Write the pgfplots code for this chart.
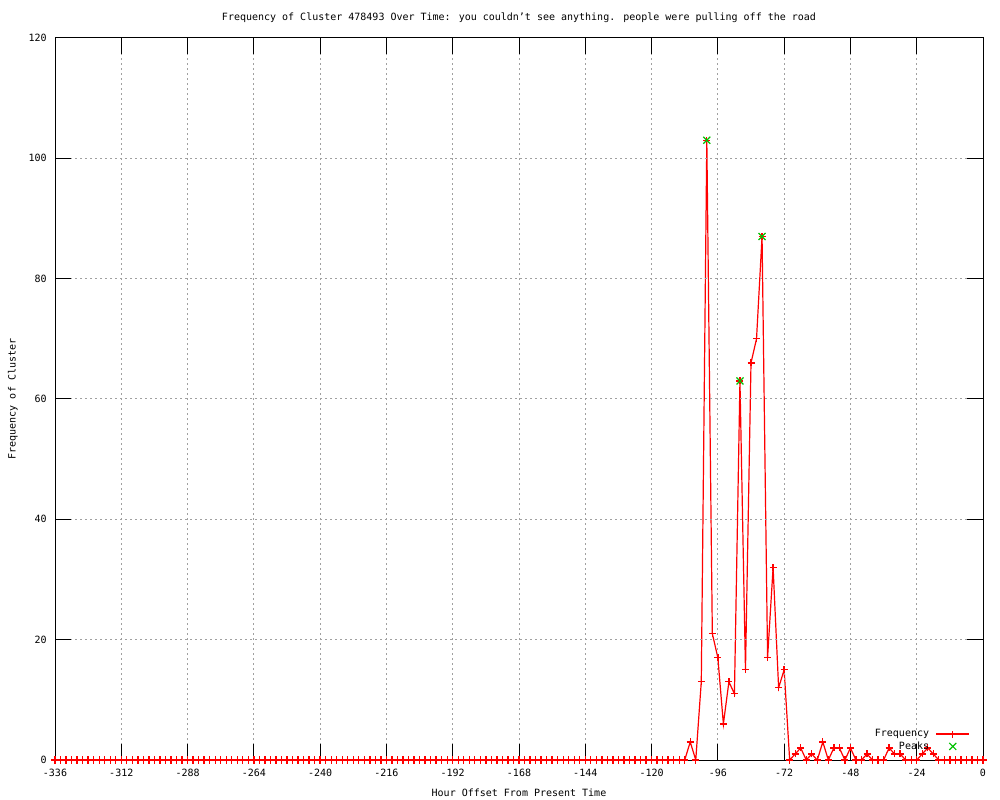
\documentclass[border=0pt]{standalone}
\usepackage{pgfplots}
\pgfplotsset{compat=1.18}
\usepackage{fontspec}
\setmainfont{DejaVu Sans Mono}
\newcommand\gf{\fontsize{5bp}{6bp}\selectfont}
\definecolor{gpred}{RGB}{255,0,0}
\definecolor{gpgreen}{RGB}{0,192,0}
\definecolor{gpgrid}{RGB}{160,160,160}
\pgfdeclareplotmark{gplus}{%
  \pgfsetstrokecolor{gpred}\pgfsetlinewidth{0.65bp}%
  \pgfpathmoveto{\pgfqpoint{-\pgfplotmarksize}{0pt}}\pgfpathlineto{\pgfqpoint{\pgfplotmarksize}{0pt}}%
  \pgfpathmoveto{\pgfqpoint{0pt}{-\pgfplotmarksize}}\pgfpathlineto{\pgfqpoint{0pt}{\pgfplotmarksize}}%
  \pgfusepathqstroke}
\pgfdeclareplotmark{gcross}{%
  \pgfsetstrokecolor{gpgreen}\pgfsetlinewidth{0.6bp}%
  \pgfpathmoveto{\pgfqpoint{-\pgfplotmarksize}{-\pgfplotmarksize}}\pgfpathlineto{\pgfqpoint{\pgfplotmarksize}{\pgfplotmarksize}}%
  \pgfpathmoveto{\pgfqpoint{-\pgfplotmarksize}{\pgfplotmarksize}}\pgfpathlineto{\pgfqpoint{\pgfplotmarksize}{-\pgfplotmarksize}}%
  \pgfusepathqstroke}
\pgfplotsset{
 freqlegend/.style={legend image code/.code={\draw[mark repeat=2,mark phase=2,##1] plot coordinates {(0bp,0bp)(8.25bp,0bp)(16.5bp,0bp)};}},
 peaklegend/.style={legend image code/.code={\draw[##1] plot coordinates {(8.25bp,0bp)};}},
}
\begin{document}
\begin{tikzpicture}
\path[use as bounding box] (0,0) rectangle (500bp,400bp);
\begin{axis}[
 scale only axis, width=464bp, height=361bp,
 at={(27.5bp,20bp)}, anchor=south west,
 xmin=-336, xmax=0, ymin=0, ymax=120,
 xtick={-336,-312,...,0},
 xticklabels={-336,-312,-288,-264,-240,-216,-192,-168,-144,-120,-96,-72,-48,-24,0},
 ytick={0,20,...,120}, yticklabels={0,20,40,60,80,100,120},
 tick align=inside, major tick length=8bp,
 tick style={black, line width=0.5bp},
 grid=major, major grid style={gpgrid, line width=0.5bp, dash pattern=on 1bp off 1.5bp},
 axis line style={black, line width=0.5bp},
 axis on top,
 font=\gf,
 ticklabel style={font=\gf, inner sep=0pt},
 xticklabel style={anchor=north, yshift=-4.5bp},
 yticklabel style={anchor=east, xshift=-4bp},
 every axis title shift=0pt,
 title={Frequency of Cluster 478493 Over Time: you couldn’t see anything. people were pulling off the road},
 title style={at={(axis description cs:0.5,1.0277)}, anchor=center, font=\gf, inner sep=0pt},
 xlabel={Hour Offset From Present Time},
 xlabel style={at={(axis description cs:0.5,-0.0457)}, anchor=center, font=\gf, inner sep=0pt},
 ylabel={Frequency of Cluster},
 ylabel style={at={(axis description cs:-0.0453,0.5)}, anchor=center, font=\gf, inner sep=0pt},
 legend plot pos=right, legend cell align=right,
 legend style={draw=none, fill=none, at={(axis description cs:0.9863,0.0429)}, anchor=north east,
   inner sep=0pt, row sep=1.6bp, column sep=3.3bp,
   nodes={inner sep=0pt, text height=3.7bp, text depth=0.9bp, font=\gf}},
]
\addplot[color=gpred, line width=0.6bp, mark=gplus, mark size=1.75bp, mark options={solid}, freqlegend]
coordinates {
(-336,0)(-334,0)(-332,0)(-330,0)(-328,0)(-326,0)(-324,0)(-322,0)(-320,0)(-318,0)
(-316,0)(-314,0)(-312,0)(-310,0)(-308,0)(-306,0)(-304,0)(-302,0)(-300,0)(-298,0)
(-296,0)(-294,0)(-292,0)(-290,0)(-288,0)(-286,0)(-284,0)(-282,0)(-280,0)(-278,0)
(-276,0)(-274,0)(-272,0)(-270,0)(-268,0)(-266,0)(-264,0)(-262,0)(-260,0)(-258,0)
(-256,0)(-254,0)(-252,0)(-250,0)(-248,0)(-246,0)(-244,0)(-242,0)(-240,0)(-238,0)
(-236,0)(-234,0)(-232,0)(-230,0)(-228,0)(-226,0)(-224,0)(-222,0)(-220,0)(-218,0)
(-216,0)(-214,0)(-212,0)(-210,0)(-208,0)(-206,0)(-204,0)(-202,0)(-200,0)(-198,0)
(-196,0)(-194,0)(-192,0)(-190,0)(-188,0)(-186,0)(-184,0)(-182,0)(-180,0)(-178,0)
(-176,0)(-174,0)(-172,0)(-170,0)(-168,0)(-166,0)(-164,0)(-162,0)(-160,0)(-158,0)
(-156,0)(-154,0)(-152,0)(-150,0)(-148,0)(-146,0)(-144,0)(-142,0)(-140,0)(-138,0)
(-136,0)(-134,0)(-132,0)(-130,0)(-128,0)(-126,0)(-124,0)(-122,0)(-120,0)(-118,0)
(-116,0)(-114,0)(-112,0)(-110,0)(-108,0)
(-106,3)(-104,0)(-102,13)(-100,103)(-98,21)(-96,17)(-94,6)(-92,13)(-90,11)(-88,63)
(-86,15)(-84,66)(-82,70)(-80,87)(-78,17)(-76,32)(-74,12)(-72,15)(-70,0)(-68,1)
(-66,2)(-64,0)(-62,1)(-60,0)(-58,3)(-56,0)(-54,2)(-52,2)(-50,0)(-48,2)
(-46,0)(-44,0)(-42,1)(-40,0)(-38,0)(-36,0)(-34,2)(-32,1)(-30,1)(-28,0)
(-26,0)(-24,0)(-22,1)(-20,2)(-18,1)(-16,0)(-14,0)(-12,0)(-10,0)(-8,0)
(-6,0)(-4,0)(-2,0)(0,0)
};
\addplot[only marks, color=gpgreen, line width=0.6bp, mark=gcross, mark size=1.75bp, peaklegend]
coordinates {(-100,103)(-88,63)(-80,87)};
\legend{Frequency,Peaks}
\end{axis}
\end{tikzpicture}
\end{document}
